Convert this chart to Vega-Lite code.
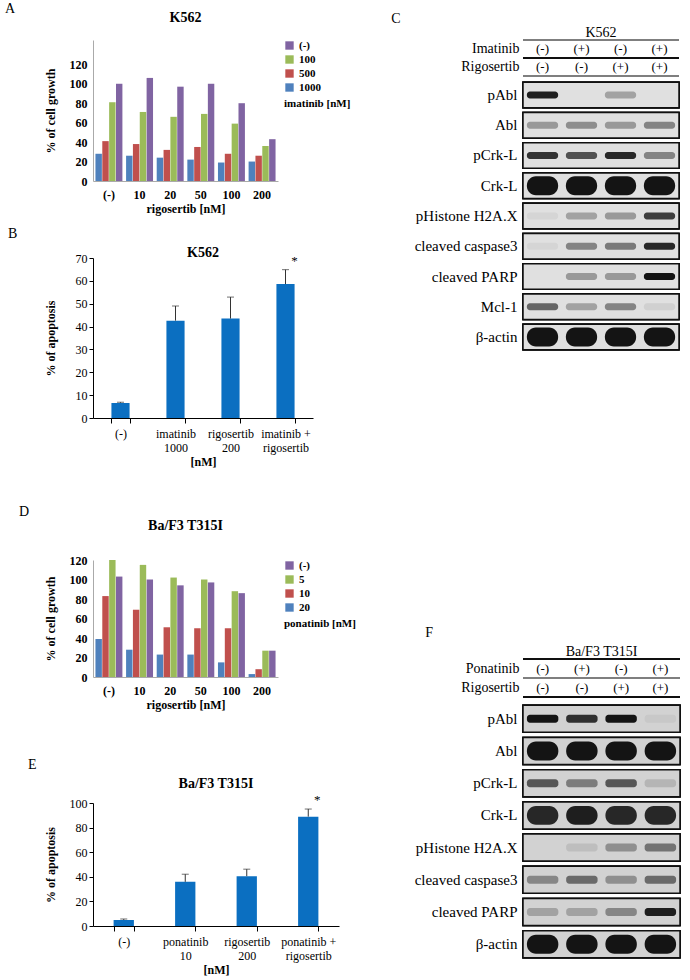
{
  "$schema": "https://vega.github.io/schema/vega-lite/v6.json",
  "background": "white",
  "padding": {"left": 5, "top": 2, "right": 2, "bottom": 2},
  "config": {
    "font": "Liberation Serif, DejaVu Serif, serif",
    "view": {"stroke": null},
    "text": {"font": "Liberation Serif, DejaVu Serif, serif"},
    "style": {
      "guide-label": {"font": "Liberation Serif, DejaVu Serif, serif"},
      "guide-title": {"font": "Liberation Serif, DejaVu Serif, serif"},
      "group-title": {"font": "Liberation Serif, DejaVu Serif, serif"}
    },
    "axis": {"labelFont": "Liberation Serif, DejaVu Serif, serif", "titleFont": "Liberation Serif, DejaVu Serif, serif", "labelColor": "#000", "titleColor": "#000", "domainColor": "#000", "tickColor": "#000", "grid": false, "labelFontSize": 12, "titleFontSize": 12, "labelOverlap": false},
    "title": {"font": "Liberation Serif, DejaVu Serif, serif", "fontSize": 14, "fontWeight": "bold", "color": "#000"},
    "legend": {"labelFont": "Liberation Serif, DejaVu Serif, serif", "titleFont": "Liberation Serif, DejaVu Serif, serif", "labelColor": "#000", "titleColor": "#000"}
  },
  "datasets": {
    "growthA": [
      {"rigosertib": "(-)", "imatinib": "(-)", "growth": 100},
      {"rigosertib": "10", "imatinib": "(-)", "growth": 106},
      {"rigosertib": "20", "imatinib": "(-)", "growth": 97},
      {"rigosertib": "50", "imatinib": "(-)", "growth": 100},
      {"rigosertib": "100", "imatinib": "(-)", "growth": 80},
      {"rigosertib": "200", "imatinib": "(-)", "growth": 43},
      {"rigosertib": "(-)", "imatinib": "100", "growth": 81},
      {"rigosertib": "10", "imatinib": "100", "growth": 71},
      {"rigosertib": "20", "imatinib": "100", "growth": 66},
      {"rigosertib": "50", "imatinib": "100", "growth": 69},
      {"rigosertib": "100", "imatinib": "100", "growth": 59},
      {"rigosertib": "200", "imatinib": "100", "growth": 36},
      {"rigosertib": "(-)", "imatinib": "500", "growth": 41},
      {"rigosertib": "10", "imatinib": "500", "growth": 38},
      {"rigosertib": "20", "imatinib": "500", "growth": 32},
      {"rigosertib": "50", "imatinib": "500", "growth": 35},
      {"rigosertib": "100", "imatinib": "500", "growth": 28},
      {"rigosertib": "200", "imatinib": "500", "growth": 26},
      {"rigosertib": "(-)", "imatinib": "1000", "growth": 28},
      {"rigosertib": "10", "imatinib": "1000", "growth": 26},
      {"rigosertib": "20", "imatinib": "1000", "growth": 24},
      {"rigosertib": "50", "imatinib": "1000", "growth": 22},
      {"rigosertib": "100", "imatinib": "1000", "growth": 19},
      {"rigosertib": "200", "imatinib": "1000", "growth": 20}
    ],
    "growthD": [
      {"rigosertib": "(-)", "ponatinib": "(-)", "growth": 103},
      {"rigosertib": "10", "ponatinib": "(-)", "growth": 100},
      {"rigosertib": "20", "ponatinib": "(-)", "growth": 94},
      {"rigosertib": "50", "ponatinib": "(-)", "growth": 97},
      {"rigosertib": "100", "ponatinib": "(-)", "growth": 86},
      {"rigosertib": "200", "ponatinib": "(-)", "growth": 27},
      {"rigosertib": "(-)", "ponatinib": "5", "growth": 120},
      {"rigosertib": "10", "ponatinib": "5", "growth": 115},
      {"rigosertib": "20", "ponatinib": "5", "growth": 102},
      {"rigosertib": "50", "ponatinib": "5", "growth": 100},
      {"rigosertib": "100", "ponatinib": "5", "growth": 88},
      {"rigosertib": "200", "ponatinib": "5", "growth": 27},
      {"rigosertib": "(-)", "ponatinib": "10", "growth": 83},
      {"rigosertib": "10", "ponatinib": "10", "growth": 69},
      {"rigosertib": "20", "ponatinib": "10", "growth": 51},
      {"rigosertib": "50", "ponatinib": "10", "growth": 50},
      {"rigosertib": "100", "ponatinib": "10", "growth": 50},
      {"rigosertib": "200", "ponatinib": "10", "growth": 8},
      {"rigosertib": "(-)", "ponatinib": "20", "growth": 39},
      {"rigosertib": "10", "ponatinib": "20", "growth": 28},
      {"rigosertib": "20", "ponatinib": "20", "growth": 23},
      {"rigosertib": "50", "ponatinib": "20", "growth": 23},
      {"rigosertib": "100", "ponatinib": "20", "growth": 15},
      {"rigosertib": "200", "ponatinib": "20", "growth": 3}
    ],
    "apoB": [
      {"condition": "(-)", "mean": 6.6, "upper": 6.9, "sig": ""},
      {"condition": "imatinib|1000", "mean": 42.6, "upper": 49.0, "sig": ""},
      {"condition": "rigosertib|200", "mean": 43.5, "upper": 52.9, "sig": ""},
      {"condition": "imatinib +|rigosertib", "mean": 58.6, "upper": 64.9, "sig": "*"}
    ],
    "apoE": [
      {"condition": "(-)", "mean": 4.9, "upper": 5.7, "sig": ""},
      {"condition": "ponatinib|10", "mean": 35.9, "upper": 42.1, "sig": ""},
      {"condition": "rigosertib|200", "mean": 40.5, "upper": 46.2, "sig": ""},
      {"condition": "ponatinib +|rigosertib", "mean": 88.9, "upper": 95.1, "sig": "*"}
    ],
    "hdrC": [
      {"row": "Imatinib", "lane": "1", "sign": "(-)"},
      {"row": "Imatinib", "lane": "2", "sign": "(+)"},
      {"row": "Imatinib", "lane": "3", "sign": "(-)"},
      {"row": "Imatinib", "lane": "4", "sign": "(+)"},
      {"row": "Rigosertib", "lane": "1", "sign": "(-)"},
      {"row": "Rigosertib", "lane": "2", "sign": "(-)"},
      {"row": "Rigosertib", "lane": "3", "sign": "(+)"},
      {"row": "Rigosertib", "lane": "4", "sign": "(+)"}
    ],
    "hdrF": [
      {"row": "Ponatinib", "lane": "1", "sign": "(-)"},
      {"row": "Ponatinib", "lane": "2", "sign": "(+)"},
      {"row": "Ponatinib", "lane": "3", "sign": "(-)"},
      {"row": "Ponatinib", "lane": "4", "sign": "(+)"},
      {"row": "Rigosertib", "lane": "1", "sign": "(-)"},
      {"row": "Rigosertib", "lane": "2", "sign": "(-)"},
      {"row": "Rigosertib", "lane": "3", "sign": "(+)"},
      {"row": "Rigosertib", "lane": "4", "sign": "(+)"}
    ],
    "blotC": [
      {"protein": "pAbl", "lane": "1", "signal": 0.95},
      {"protein": "pAbl", "lane": "2", "signal": 0},
      {"protein": "pAbl", "lane": "3", "signal": 0.3},
      {"protein": "pAbl", "lane": "4", "signal": 0},
      {"protein": "Abl", "lane": "1", "signal": 0.35},
      {"protein": "Abl", "lane": "2", "signal": 0.4},
      {"protein": "Abl", "lane": "3", "signal": 0.35},
      {"protein": "Abl", "lane": "4", "signal": 0.45},
      {"protein": "pCrk-L", "lane": "1", "signal": 0.85},
      {"protein": "pCrk-L", "lane": "2", "signal": 0.7},
      {"protein": "pCrk-L", "lane": "3", "signal": 0.9},
      {"protein": "pCrk-L", "lane": "4", "signal": 0.45},
      {"protein": "Crk-L", "lane": "1", "signal": 1},
      {"protein": "Crk-L", "lane": "2", "signal": 1},
      {"protein": "Crk-L", "lane": "3", "signal": 1},
      {"protein": "Crk-L", "lane": "4", "signal": 1},
      {"protein": "pHistone H2A.X", "lane": "1", "signal": 0.05},
      {"protein": "pHistone H2A.X", "lane": "2", "signal": 0.3},
      {"protein": "pHistone H2A.X", "lane": "3", "signal": 0.35},
      {"protein": "pHistone H2A.X", "lane": "4", "signal": 0.8},
      {"protein": "cleaved caspase3", "lane": "1", "signal": 0.05},
      {"protein": "cleaved caspase3", "lane": "2", "signal": 0.45},
      {"protein": "cleaved caspase3", "lane": "3", "signal": 0.5},
      {"protein": "cleaved caspase3", "lane": "4", "signal": 0.9},
      {"protein": "cleaved PARP", "lane": "1", "signal": 0},
      {"protein": "cleaved PARP", "lane": "2", "signal": 0.35},
      {"protein": "cleaved PARP", "lane": "3", "signal": 0.35},
      {"protein": "cleaved PARP", "lane": "4", "signal": 1},
      {"protein": "Mcl-1", "lane": "1", "signal": 0.6},
      {"protein": "Mcl-1", "lane": "2", "signal": 0.3},
      {"protein": "Mcl-1", "lane": "3", "signal": 0.45},
      {"protein": "Mcl-1", "lane": "4", "signal": 0.08},
      {"protein": "β-actin", "lane": "1", "signal": 1},
      {"protein": "β-actin", "lane": "2", "signal": 1},
      {"protein": "β-actin", "lane": "3", "signal": 1},
      {"protein": "β-actin", "lane": "4", "signal": 1}
    ],
    "blotF": [
      {"protein": "pAbl", "lane": "1", "signal": 1},
      {"protein": "pAbl", "lane": "2", "signal": 0.85},
      {"protein": "pAbl", "lane": "3", "signal": 1},
      {"protein": "pAbl", "lane": "4", "signal": 0.05},
      {"protein": "Abl", "lane": "1", "signal": 1},
      {"protein": "Abl", "lane": "2", "signal": 1},
      {"protein": "Abl", "lane": "3", "signal": 1},
      {"protein": "Abl", "lane": "4", "signal": 1},
      {"protein": "pCrk-L", "lane": "1", "signal": 0.65},
      {"protein": "pCrk-L", "lane": "2", "signal": 0.45},
      {"protein": "pCrk-L", "lane": "3", "signal": 0.65},
      {"protein": "pCrk-L", "lane": "4", "signal": 0.15},
      {"protein": "Crk-L", "lane": "1", "signal": 0.9},
      {"protein": "Crk-L", "lane": "2", "signal": 0.95},
      {"protein": "Crk-L", "lane": "3", "signal": 0.9},
      {"protein": "Crk-L", "lane": "4", "signal": 0.9},
      {"protein": "pHistone H2A.X", "lane": "1", "signal": 0},
      {"protein": "pHistone H2A.X", "lane": "2", "signal": 0.1},
      {"protein": "pHistone H2A.X", "lane": "3", "signal": 0.35},
      {"protein": "pHistone H2A.X", "lane": "4", "signal": 0.5},
      {"protein": "cleaved caspase3", "lane": "1", "signal": 0.4},
      {"protein": "cleaved caspase3", "lane": "2", "signal": 0.55},
      {"protein": "cleaved caspase3", "lane": "3", "signal": 0.35},
      {"protein": "cleaved caspase3", "lane": "4", "signal": 0.55},
      {"protein": "cleaved PARP", "lane": "1", "signal": 0.25},
      {"protein": "cleaved PARP", "lane": "2", "signal": 0.25},
      {"protein": "cleaved PARP", "lane": "3", "signal": 0.4},
      {"protein": "cleaved PARP", "lane": "4", "signal": 0.95},
      {"protein": "β-actin", "lane": "1", "signal": 1},
      {"protein": "β-actin", "lane": "2", "signal": 1},
      {"protein": "β-actin", "lane": "3", "signal": 1},
      {"protein": "β-actin", "lane": "4", "signal": 1}
    ]
  },
  "resolve": {"scale": {"color": "independent", "xOffset": "independent", "opacity": "independent"}, "legend": {"color": "independent"}},
  "hconcat": [
    {
      "spacing": 38,
      "resolve": {"scale": {"color": "independent", "xOffset": "independent", "opacity": "independent"}, "legend": {"color": "independent"}},
      "vconcat": [
        {
          "spacing": 13,
          "resolve": {"scale": {"color": "independent", "xOffset": "independent"}, "legend": {"color": "independent"}},
          "vconcat": [
            {
              "title": {"text": "A", "anchor": "start", "fontWeight": "normal", "fontSize": 14, "dx": -39, "offset": -5},
              "vconcat": [
                {
                  "title": {"text": "K562", "offset": 15},
                  "width": 185,
                  "height": 141,
                  "data": {"name": "growthA"},
                  "mark": {"type": "bar"},
                  "encoding": {
                    "x": {"field": "rigosertib", "type": "nominal", "sort": ["(-)", "10", "20", "50", "100", "200"], "title": "rigosertib [nM]",
                      "scale": {"paddingInner": 0.12, "paddingOuter": 0.08},
                      "axis": {"labelAngle": 0, "ticks": false, "domainColor": "#aaaaaa", "labelFontWeight": "bold", "titleFontWeight": "bold", "labelPadding": 8, "titlePadding": 3}},
                    "xOffset": {"field": "imatinib", "type": "nominal", "sort": ["1000", "500", "100", "(-)"], "scale": {"paddingInner": 0.06}},
                    "y": {"field": "growth", "type": "quantitative", "title": "% of cell growth", "scale": {"domain": [0, 145], "nice": false},
                      "axis": {"values": [0, 20, 40, 60, 80, 100, 120], "ticks": false, "domainColor": "#aaaaaa", "labelFontWeight": "bold", "titleFontWeight": "bold", "labelPadding": 6, "titlePadding": 8, "minExtent": 28, "maxExtent": 28}},
                    "color": {"field": "imatinib", "type": "nominal",
                      "scale": {"domain": ["(-)", "100", "500", "1000"], "range": ["#8064A2", "#9BBB59", "#C0504D", "#4F81BD"]},
                      "legend": {"title": "imatinib [nM]", "orient": "right", "titleOrient": "bottom", "symbolType": "square", "symbolSize": 70, "labelFontSize": 11, "labelFontWeight": "bold", "titleFontSize": 11, "titleFontWeight": "bold", "offset": 6}}
                  }
                }
              ]
            },
            {
              "title": {"text": "B", "anchor": "start", "fontWeight": "normal", "fontSize": 14, "dx": -36, "offset": 5},
              "vconcat": [
                {
                  "title": {"text": "K562", "offset": -8},
                  "width": 220,
                  "height": 160,
                  "data": {"name": "apoB"},
                  "encoding": {
                    "x": {"field": "condition", "type": "nominal", "sort": null, "title": "[nM]",
                      "scale": {"paddingInner": 0.67, "paddingOuter": 0.335},
                      "axis": {"labelAngle": 0, "labelExpr": "split(datum.label, '|')", "tickBand": "extent", "tickSize": 5, "labelPadding": 5, "titleFontWeight": "bold", "titlePadding": 3}}
                  },
                  "layer": [
                    {"mark": {"type": "bar", "color": "#0b6fc1"},
                      "encoding": {"y": {"field": "mean", "type": "quantitative", "title": "% of apoptosis", "scale": {"domain": [0, 70]},
                        "axis": {"values": [0, 10, 20, 30, 40, 50, 60, 70], "labelOverlap": false, "tickSize": 4, "labelPadding": 2, "titleFontWeight": "bold", "titlePadding": 8, "minExtent": 28, "maxExtent": 28}}}},
                    {"mark": {"type": "rule", "color": "#333333"},
                      "encoding": {"y": {"field": "mean", "type": "quantitative", "title": "% of apoptosis",
                        "axis": {"values": [0, 10, 20, 30, 40, 50, 60, 70], "labelOverlap": false, "tickSize": 4, "labelPadding": 2, "titleFontWeight": "bold", "titlePadding": 8, "minExtent": 28, "maxExtent": 28}}, "y2": {"field": "upper"}}},
                    {"mark": {"type": "tick", "color": "#333333", "size": 7, "thickness": 1},
                      "encoding": {"y": {"field": "upper", "type": "quantitative", "title": "% of apoptosis",
                        "axis": {"values": [0, 10, 20, 30, 40, 50, 60, 70], "labelOverlap": false, "tickSize": 4, "labelPadding": 2, "titleFontWeight": "bold", "titlePadding": 8, "minExtent": 28, "maxExtent": 28}}}},
                    {"mark": {"type": "text", "baseline": "bottom", "dx": 9, "dy": -2, "fontSize": 13},
                      "encoding": {"y": {"field": "upper", "type": "quantitative", "title": "% of apoptosis",
                        "axis": {"values": [0, 10, 20, 30, 40, 50, 60, 70], "labelOverlap": false, "tickSize": 4, "labelPadding": 2, "titleFontWeight": "bold", "titlePadding": 8, "minExtent": 28, "maxExtent": 28}}, "text": {"field": "sig"}}}
                  ]
                }
              ]
            }
          ]
        },
        {
          "spacing": 48,
          "resolve": {"scale": {"color": "independent", "xOffset": "independent"}, "legend": {"color": "independent"}},
          "vconcat": [
            {
              "title": {"text": "D", "anchor": "start", "fontWeight": "normal", "fontSize": 14, "dx": -25, "offset": 0},
              "vconcat": [
                {
                  "title": {"text": "Ba/F3 T315I", "offset": 21},
                  "width": 185,
                  "height": 117,
                  "data": {"name": "growthD"},
                  "mark": {"type": "bar"},
                  "encoding": {
                    "x": {"field": "rigosertib", "type": "nominal", "sort": ["(-)", "10", "20", "50", "100", "200"], "title": "rigosertib [nM]",
                      "scale": {"paddingInner": 0.12, "paddingOuter": 0.08},
                      "axis": {"labelAngle": 0, "ticks": false, "domainColor": "#aaaaaa", "labelFontWeight": "bold", "titleFontWeight": "bold", "labelPadding": 8, "titlePadding": 3}},
                    "xOffset": {"field": "ponatinib", "type": "nominal", "sort": ["20", "10", "5", "(-)"], "scale": {"paddingInner": 0.06}},
                    "y": {"field": "growth", "type": "quantitative", "title": "% of cell growth", "scale": {"domain": [0, 120]},
                      "axis": {"values": [0, 20, 40, 60, 80, 100, 120], "ticks": false, "domainColor": "#aaaaaa", "labelFontWeight": "bold", "titleFontWeight": "bold", "labelPadding": 6, "titlePadding": 8, "minExtent": 28, "maxExtent": 28}},
                    "color": {"field": "ponatinib", "type": "nominal",
                      "scale": {"domain": ["(-)", "5", "10", "20"], "range": ["#8064A2", "#9BBB59", "#C0504D", "#4F81BD"]},
                      "legend": {"title": "ponatinib [nM]", "orient": "right", "titleOrient": "bottom", "symbolType": "square", "symbolSize": 70, "labelFontSize": 11, "labelFontWeight": "bold", "titleFontSize": 11, "titleFontWeight": "bold", "offset": 6}}
                  }
                }
              ]
            },
            {
              "title": {"text": "E", "anchor": "start", "fontWeight": "normal", "fontSize": 14, "dx": -16, "offset": 5},
              "vconcat": [
                {
                  "title": {"text": "Ba/F3 T315I", "offset": 3},
                  "width": 246,
                  "height": 123,
                  "data": {"name": "apoE"},
                  "encoding": {
                    "x": {"field": "condition", "type": "nominal", "sort": null, "title": "[nM]",
                      "scale": {"paddingInner": 0.67, "paddingOuter": 0.335},
                      "axis": {"labelAngle": 0, "labelExpr": "split(datum.label, '|')", "tickBand": "extent", "tickSize": 5, "labelPadding": 5, "titleFontWeight": "bold", "titlePadding": 3}}
                  },
                  "layer": [
                    {"mark": {"type": "bar", "color": "#0b6fc1"},
                      "encoding": {"y": {"field": "mean", "type": "quantitative", "title": "% of apoptosis", "scale": {"domain": [0, 100]},
                        "axis": {"values": [0, 20, 40, 60, 80, 100], "labelOverlap": false, "tickSize": 4, "labelPadding": 2, "titleFontWeight": "bold", "titlePadding": 8, "minExtent": 28, "maxExtent": 28}}}},
                    {"mark": {"type": "rule", "color": "#333333"},
                      "encoding": {"y": {"field": "mean", "type": "quantitative", "title": "% of apoptosis",
                        "axis": {"values": [0, 20, 40, 60, 80, 100], "labelOverlap": false, "tickSize": 4, "labelPadding": 2, "titleFontWeight": "bold", "titlePadding": 8, "minExtent": 28, "maxExtent": 28}}, "y2": {"field": "upper"}}},
                    {"mark": {"type": "tick", "color": "#333333", "size": 7, "thickness": 1},
                      "encoding": {"y": {"field": "upper", "type": "quantitative", "title": "% of apoptosis",
                        "axis": {"values": [0, 20, 40, 60, 80, 100], "labelOverlap": false, "tickSize": 4, "labelPadding": 2, "titleFontWeight": "bold", "titlePadding": 8, "minExtent": 28, "maxExtent": 28}}}},
                    {"mark": {"type": "text", "baseline": "bottom", "dx": 9, "dy": -2, "fontSize": 13},
                      "encoding": {"y": {"field": "upper", "type": "quantitative", "title": "% of apoptosis",
                        "axis": {"values": [0, 20, 40, 60, 80, 100], "labelOverlap": false, "tickSize": 4, "labelPadding": 2, "titleFontWeight": "bold", "titlePadding": 8, "minExtent": 28, "maxExtent": 28}}, "text": {"field": "sig"}}}
                  ]
                }
              ]
            }
          ]
        }
      ]
    },
    {
      "spacing": 274,
      "resolve": {"scale": {"opacity": "independent"}},
      "vconcat": [
        {
          "title": {"text": "C", "anchor": "start", "fontWeight": "normal", "fontSize": 14, "dx": -23, "offset": 0},
          "spacing": 4,
          "vconcat": [
            {
              "title": {"text": "K562", "fontWeight": "normal", "fontSize": 14, "offset": 3, "dy": 4},
              "width": 156,
              "height": 36,
              "data": {"name": "hdrC"},
              "layer": [
                {"mark": {"type": "text", "fontSize": 13},
                  "encoding": {
                    "x": {"field": "lane", "type": "nominal", "axis": null, "scale": {"paddingInner": 0.25, "paddingOuter": 0.125}},
                    "y": {"field": "row", "type": "nominal", "sort": ["Imatinib", "Rigosertib"], "scale": {"paddingInner": 0, "paddingOuter": 0}, "axis": {"title": null, "ticks": false, "domain": false, "labelFontSize": 14, "labelPadding": 4}},
                    "text": {"field": "sign"}}},
                {"transform": [{"filter": "datum.row == 'Imatinib'"}],
                  "mark": {"type": "rule", "color": "#7f7f7f", "strokeWidth": 2},
                  "encoding": {"y": {"field": "row", "type": "nominal", "sort": ["Imatinib", "Rigosertib"], "bandPosition": 0, "axis": {"title": null, "ticks": false, "domain": false, "labelFontSize": 14, "labelPadding": 4}}}},
                {"transform": [{"filter": "datum.row == 'Rigosertib'"}],
                  "mark": {"type": "rule", "color": "#000000", "strokeWidth": 1},
                  "encoding": {"y": {"field": "row", "type": "nominal", "sort": ["Imatinib", "Rigosertib"], "bandPosition": 0, "axis": {"title": null, "ticks": false, "domain": false, "labelFontSize": 14, "labelPadding": 4}}}},
                {"transform": [{"filter": "datum.row == 'Rigosertib'"}],
                  "mark": {"type": "rule", "color": "#7f7f7f", "strokeWidth": 2},
                  "encoding": {"y": {"field": "row", "type": "nominal", "sort": ["Imatinib", "Rigosertib"], "bandPosition": 1, "axis": {"title": null, "ticks": false, "domain": false, "labelFontSize": 14, "labelPadding": 4}}}}
              ]
            },
            {
              "width": 156,
              "height": 270,
              "data": {"name": "blotC"},
              "encoding": {
                "y": {"field": "protein", "type": "nominal", "sort": ["pAbl", "Abl", "pCrk-L", "Crk-L", "pHistone H2A.X", "cleaved caspase3", "cleaved PARP", "Mcl-1", "β-actin"],
                  "scale": {"paddingInner": 0.16, "paddingOuter": 0.04},
                  "axis": {"title": null, "ticks": false, "domain": false, "labelFontSize": 15, "labelPadding": 6}}
              },
              "layer": [
                {"mark": {"type": "rect", "fill": "#e0e0e0", "stroke": "#111111", "strokeWidth": 1.5}},
                {"transform": [{"filter": {"not": {"field": "protein", "oneOf": ["Crk-L", "β-actin"]}}}],
                  "mark": {"type": "rect", "height": 7, "cornerRadius": 3, "fill": "#141414"},
                  "encoding": {
                    "x": {"field": "lane", "type": "nominal", "axis": null, "scale": {"paddingInner": 0.2, "paddingOuter": 0.1}},
                    "opacity": {"field": "signal", "type": "quantitative", "scale": {"domain": [0, 1], "range": [0, 1]}, "legend": null}}},
                {"transform": [{"filter": {"field": "protein", "oneOf": ["Crk-L", "β-actin"]}}],
                  "mark": {"type": "rect", "height": {"band": 0.75}, "cornerRadius": 9, "fill": "#141414"},
                  "encoding": {
                    "x": {"field": "lane", "type": "nominal", "axis": null, "scale": {"paddingInner": 0.2, "paddingOuter": 0.1}},
                    "opacity": {"field": "signal", "type": "quantitative", "scale": {"domain": [0, 1], "range": [0, 1]}, "legend": null}}}
              ]
            }
          ]
        },
        {
          "title": {"text": "F", "anchor": "start", "fontWeight": "normal", "fontSize": 14, "dx": 11, "offset": 5},
          "spacing": 6,
          "vconcat": [
            {
              "title": {"text": "Ba/F3 T315I", "fontWeight": "normal", "fontSize": 14, "offset": 0},
              "width": 157,
              "height": 38,
              "data": {"name": "hdrF"},
              "layer": [
                {"mark": {"type": "text", "fontSize": 13},
                  "encoding": {
                    "x": {"field": "lane", "type": "nominal", "axis": null, "scale": {"paddingInner": 0.25, "paddingOuter": 0.125}},
                    "y": {"field": "row", "type": "nominal", "sort": ["Ponatinib", "Rigosertib"], "scale": {"paddingInner": 0, "paddingOuter": 0}, "axis": {"title": null, "ticks": false, "domain": false, "labelFontSize": 14, "labelPadding": 4}},
                    "text": {"field": "sign"}}},
                {"transform": [{"filter": "datum.row == 'Ponatinib'"}],
                  "mark": {"type": "rule", "color": "#000000", "strokeWidth": 1},
                  "encoding": {"y": {"field": "row", "type": "nominal", "sort": ["Ponatinib", "Rigosertib"], "bandPosition": 0, "axis": {"title": null, "ticks": false, "domain": false, "labelFontSize": 14, "labelPadding": 4}}}},
                {"transform": [{"filter": "datum.row == 'Rigosertib'"}],
                  "mark": {"type": "rule", "color": "#7f7f7f", "strokeWidth": 2},
                  "encoding": {"y": {"field": "row", "type": "nominal", "sort": ["Ponatinib", "Rigosertib"], "bandPosition": 0, "axis": {"title": null, "ticks": false, "domain": false, "labelFontSize": 14, "labelPadding": 4}}}},
                {"transform": [{"filter": "datum.row == 'Rigosertib'"}],
                  "mark": {"type": "rule", "color": "#000000", "strokeWidth": 1},
                  "encoding": {"y": {"field": "row", "type": "nominal", "sort": ["Ponatinib", "Rigosertib"], "bandPosition": 1, "axis": {"title": null, "ticks": false, "domain": false, "labelFontSize": 14, "labelPadding": 4}}}}
              ]
            },
            {
              "width": 157,
              "height": 255,
              "data": {"name": "blotF"},
              "encoding": {
                "y": {"field": "protein", "type": "nominal", "sort": ["pAbl", "Abl", "pCrk-L", "Crk-L", "pHistone H2A.X", "cleaved caspase3", "cleaved PARP", "β-actin"],
                  "scale": {"paddingInner": 0.16, "paddingOuter": 0.04},
                  "axis": {"title": null, "ticks": false, "domain": false, "labelFontSize": 15, "labelPadding": 6}}
              },
              "layer": [
                {"mark": {"type": "rect", "fill": "#d2d2d2", "stroke": "#111111", "strokeWidth": 1.5}},
                {"transform": [{"filter": {"not": {"field": "protein", "oneOf": ["Abl", "Crk-L", "β-actin"]}}}],
                  "mark": {"type": "rect", "height": 8, "cornerRadius": 3, "fill": "#141414"},
                  "encoding": {
                    "x": {"field": "lane", "type": "nominal", "axis": null, "scale": {"paddingInner": 0.2, "paddingOuter": 0.1}},
                    "opacity": {"field": "signal", "type": "quantitative", "scale": {"domain": [0, 1], "range": [0, 1]}, "legend": null}}},
                {"transform": [{"filter": {"field": "protein", "oneOf": ["Abl", "Crk-L", "β-actin"]}}],
                  "mark": {"type": "rect", "height": {"band": 0.7}, "cornerRadius": 9, "fill": "#141414"},
                  "encoding": {
                    "x": {"field": "lane", "type": "nominal", "axis": null, "scale": {"paddingInner": 0.2, "paddingOuter": 0.1}},
                    "opacity": {"field": "signal", "type": "quantitative", "scale": {"domain": [0, 1], "range": [0, 1]}, "legend": null}}}
              ]
            }
          ]
        }
      ]
    }
  ],
  "spacing": 35
}
